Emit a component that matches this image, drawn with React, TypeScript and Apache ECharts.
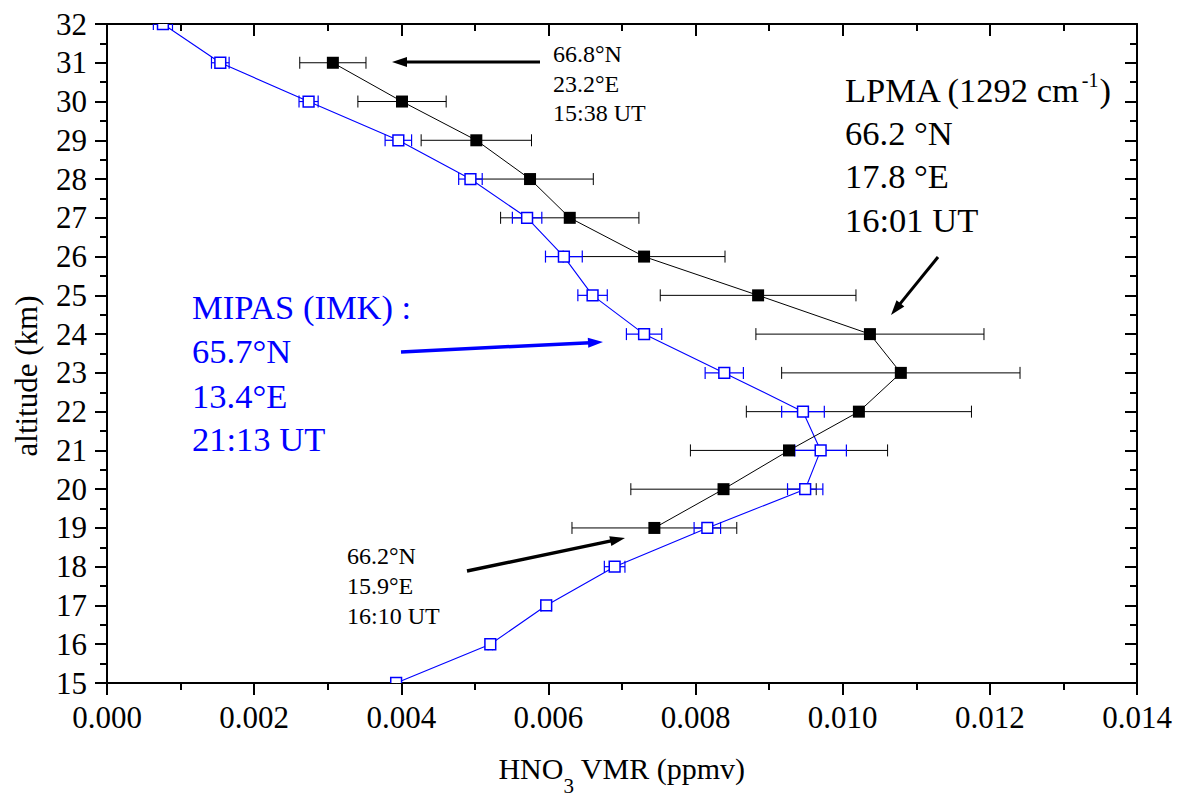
import React, { useEffect, useRef } from 'react';
import * as echarts from 'echarts';

// ---------- data ----------
const lpmaAltitude = [31, 30, 29, 28, 27, 26, 25, 24, 23, 22, 21, 20, 19];
const lpmaVmr = [0.00307, 0.00401, 0.00502, 0.00575, 0.00629, 0.0073, 0.00885, 0.01037, 0.01079, 0.01022, 0.00927, 0.00838, 0.00744];
const lpmaErr = [0.00045, 0.0006, 0.00075, 0.00086, 0.00094, 0.0011, 0.00133, 0.00155, 0.00162, 0.00153, 0.00134, 0.00126, 0.00112];

const mipasAltitude = [32, 31, 30, 29, 28, 27, 26, 25, 24, 23, 22, 21, 20, 19, 18, 17, 16, 15];
const mipasVmr = [0.00076, 0.00154, 0.00274, 0.00396, 0.00494, 0.00571, 0.00621, 0.0066, 0.0073, 0.00839, 0.00946, 0.0097, 0.00949, 0.00816, 0.0069, 0.00597, 0.00521, 0.00393];
const mipasErr = [0.00013, 0.00012, 0.00013, 0.00018, 0.00016, 0.0002, 0.00025, 0.0002, 0.00024, 0.00026, 0.00029, 0.00035, 0.00024, 0.00018, 0.00014, 0.00007, 0.00003, 0.00002];

const xMin = 0;
const xMax = 0.014;
const xStep = 0.002;
const yMin = 15;
const yMax = 32;
const yStep = 1;

const FONT = "'Liberation Serif', 'Times New Roman', Times, serif";
const BLUE = '#0000ff';

function measure(text: string, size: number): number {
  const c = document.createElement('canvas');
  const ctx = c.getContext('2d');
  if (!ctx) return text.length * size * 0.5;
  ctx.font = `${size}px 'Liberation Serif'`;
  return ctx.measureText(text).width;
}

function mid(baseline: number, size: number) {
  return baseline - 0.3375 * size;
}

function txt(text: string, x: number, baseline: number, size: number, fill = '#000', align = 'left') {
  return {
    type: 'text',
    x,
    y: mid(baseline, size),
    silent: true,
    style: { text, fontSize: size, fontFamily: FONT, fill, align, verticalAlign: 'middle' },
  };
}

function arrow(x1: number, y1: number, x2: number, y2: number, color: string, width: number, headLen = 15, headHalf = 5) {
  const dx = x2 - x1;
  const dy = y2 - y1;
  const L = Math.hypot(dx, dy);
  const ux = dx / L;
  const uy = dy / L;
  const bx = x2 - ux * headLen;
  const by = y2 - uy * headLen;
  const px = -uy;
  const py = ux;
  return [
    { type: 'line', silent: true, shape: { x1, y1, x2: bx + ux * 2, y2: by + uy * 2 }, style: { stroke: color, lineWidth: width } },
    {
      type: 'polygon',
      silent: true,
      shape: { points: [[x2, y2], [bx + px * headHalf, by + py * headHalf], [bx - px * headHalf, by - py * headHalf]] },
      style: { fill: color },
    },
  ];
}

function errorBars(color: string, width: number, withSquares: boolean) {
  return (_params: any, api: any) => {
    const x = api.value(0);
    const y = api.value(1);
    const e = api.value(2);
    const lo = api.coord([x - e, y]);
    const hi = api.coord([x + e, y]);
    const c = api.coord([x, y]);
    const h = 6;
    const style = { stroke: color, lineWidth: width };
    const children: any[] = [
      { type: 'line', shape: { x1: lo[0], y1: lo[1], x2: hi[0], y2: hi[1] }, style },
      { type: 'line', shape: { x1: lo[0], y1: lo[1] - h, x2: lo[0], y2: lo[1] + h }, style },
      { type: 'line', shape: { x1: hi[0], y1: hi[1] - h, x2: hi[0], y2: hi[1] + h }, style },
    ];
    if (withSquares) {
      children.push({
        type: 'rect',
        shape: { x: c[0] - 5.4, y: c[1] - 5.4, width: 10.8, height: 10.8 },
        style: { fill: '#fff', stroke: BLUE, lineWidth: 1.5 },
      });
    }
    return { type: 'group', children };
  };
}

export default function App() {
  const ref = useRef<HTMLDivElement>(null);

  useEffect(() => {
    if (!ref.current) return;
    const chart = echarts.init(ref.current, undefined, { renderer: 'svg' });

    const axisLine = { show: true, onZero: false, lineStyle: { color: '#000', width: 2 } };
    const tick = (inside: boolean) => ({ show: true, inside, length: 12, lineStyle: { color: '#000', width: 2 } });
    const minor = (n: number) => ({ show: true, splitNumber: n, length: 7, lineStyle: { color: '#000', width: 2 } });
    const labelStyle = { fontSize: 31, fontFamily: FONT, color: '#000' };

    // x-axis title pieces
    const tSize = 30;
    const sSize = 21;
    const wA = measure('HNO', tSize);
    const wB = measure('3', sSize);
    const wC = measure(' VMR (ppmv)', tSize);
    const tStart = 622 - (wA + wB + wC) / 2;
    const tBase = 779;

    // LPMA first line pieces
    const lSize = 34.5;
    const lpA = 'LPMA (1292 cm';
    const wL1 = measure(lpA, lSize);
    const wSup = measure('-1', 20);

    const graphic: any[] = [
      // small top note
      txt('66.8°N', 553, 62, 24),
      txt('23.2°E', 553, 92, 24),
      txt('15:38 UT', 553, 121.5, 24),
      ...arrow(540, 62, 392, 62, '#000', 3),
      // LPMA label
      txt(lpA, 845, 101.5, lSize),
      txt('-1', 845 + wL1 + 1, 87, 20),
      txt(')', 845 + wL1 + wSup + 2, 101.5, lSize),
      txt('66.2 °N', 845, 144.5, lSize),
      txt('17.8 °E', 845, 188, lSize),
      txt('16:01 UT', 845, 231.5, lSize),
      ...arrow(938, 257, 891, 315, '#000', 3),
      // MIPAS label
      txt('MIPAS (IMK) :', 192, 319, lSize, BLUE),
      txt('65.7°N', 192, 363, lSize, BLUE),
      txt('13.4°E', 192, 407.5, lSize, BLUE),
      txt('21:13 UT', 192, 451, lSize, BLUE),
      ...arrow(401, 352, 603, 342, BLUE, 3.5),
      // bottom note
      txt('66.2°N', 347, 564.3, 24),
      txt('15.9°E', 347, 594.3, 24),
      txt('16:10 UT', 347, 624, 24),
      ...arrow(467, 571, 625, 538, '#000', 3.5),
      // axis titles
      txt('HNO', tStart, tBase, tSize),
      txt('3', tStart + wA, tBase + 14, sSize),
      txt(' VMR (ppmv)', tStart + wA + wB, tBase, tSize),
      {
        type: 'text',
        x: 26,
        y: 376,
        rotation: Math.PI / 2,
        silent: true,
        style: { text: 'altitude (km)', fontSize: 31, fontFamily: FONT, fill: '#000', align: 'center', verticalAlign: 'middle' },
      },
    ];

    const option: any = {
      animation: false,
      backgroundColor: '#fff',
      grid: { left: 107, right: 40, top: 24, bottom: 115, containLabel: false, outerBoundsMode: 'none' },
      xAxis: [
        {
          type: 'value', min: xMin, max: xMax, interval: xStep, position: 'bottom',
          axisLine, axisTick: tick(false), minorTick: minor(2),
          splitLine: { show: false }, minorSplitLine: { show: false },
          axisLabel: { ...labelStyle, margin: 19, showMinLabel: true, showMaxLabel: true, formatter: (v: number) => v.toFixed(3) },
        },
        {
          type: 'value', min: xMin, max: xMax, interval: xStep, position: 'top',
          axisLine, axisTick: tick(true), minorTick: { ...minor(2), length: 7 },
          splitLine: { show: false }, minorSplitLine: { show: false },
          axisLabel: { show: false },
        },
      ],
      yAxis: [
        {
          type: 'value', min: yMin, max: yMax, interval: yStep, position: 'left',
          axisLine, axisTick: tick(false), minorTick: minor(2),
          splitLine: { show: false }, minorSplitLine: { show: false },
          axisLabel: { ...labelStyle, margin: 20, showMinLabel: true, showMaxLabel: true },
        },
        {
          type: 'value', min: yMin, max: yMax, interval: yStep, position: 'right',
          axisLine, axisTick: tick(true), minorTick: minor(2),
          splitLine: { show: false }, minorSplitLine: { show: false },
          axisLabel: { show: false },
        },
      ],
      series: [
        {
          type: 'custom',
          name: 'LPMA error',
          renderItem: errorBars('#000', 1, false),
          data: lpmaAltitude.map((a, i) => [lpmaVmr[i], a, lpmaErr[i]]),
          encode: { x: 0, y: 1 },
          clip: true,
          silent: true,
          z: 1,
        },
        {
          type: 'line',
          name: 'MIPAS (IMK)',
          data: mipasAltitude.map((a, i) => [mipasVmr[i], a]),
          symbol: 'none',
          lineStyle: { color: BLUE, width: 1.1 },
          clip: true,
          silent: true,
          z: 2,
        },
        {
          type: 'custom',
          name: 'MIPAS error',
          renderItem: errorBars(BLUE, 1.2, true),
          data: mipasAltitude.map((a, i) => [mipasVmr[i], a, mipasErr[i]]),
          encode: { x: 0, y: 1 },
          clip: true,
          silent: true,
          z: 3,
        },
        {
          type: 'line',
          name: 'LPMA (1292 cm-1)',
          data: lpmaAltitude.map((a, i) => [lpmaVmr[i], a]),
          symbol: 'rect',
          symbolSize: 12,
          showAllSymbol: true,
          itemStyle: { color: '#000' },
          lineStyle: { color: '#000', width: 1 },
          clip: true,
          silent: true,
          z: 4,
        },
      ],
      graphic,
    };

    chart.setOption(option);
    return () => chart.dispose();
  }, []);

  return (
    <div
      ref={ref}
      style={{ position: 'absolute', left: 0, top: 0, width: 1177, height: 798, background: '#fff' }}
    />
  );
}
